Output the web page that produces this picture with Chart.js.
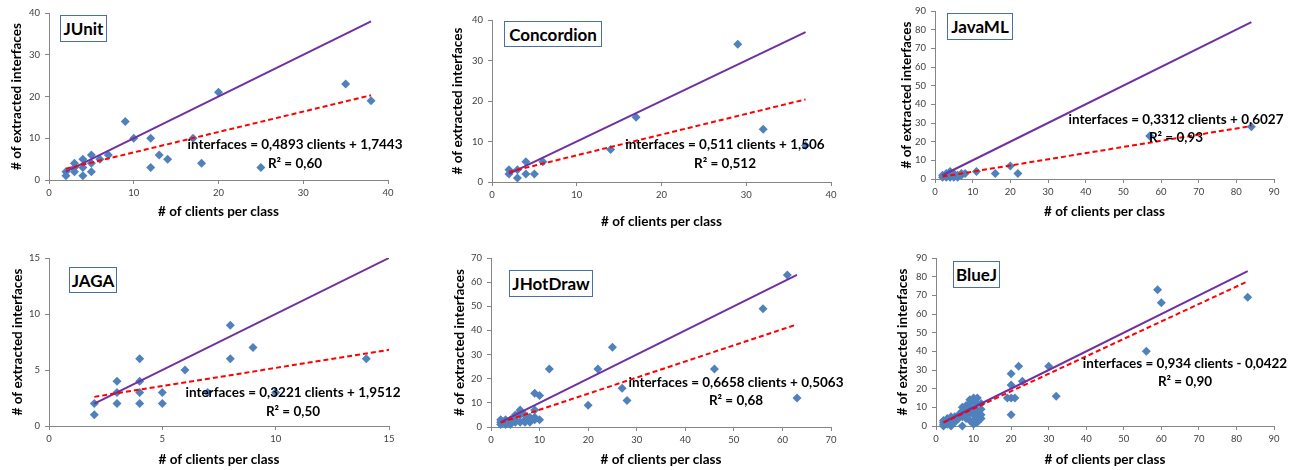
<!DOCTYPE html>
<html lang="en">
<head>
  <meta charset="UTF-8">
  <title>Clients per class vs extracted interfaces</title>
  <script src="https://cdn.jsdelivr.net/npm/chart.js"></script>
  <style>
    body { margin: 0; background: #fff; font-family: Lato, sans-serif; }
    #page { position: relative; width: 1299px; height: 470px; overflow: hidden; }
    .panel { position: absolute; }
    .tag { position: absolute; box-sizing: border-box; border: 1px solid #4a6fa5; background: #fff;
           font-weight: bold; font-size: 17px; display: flex; align-items: center; justify-content: center; }
    .eq { position: absolute; transform: translate(-50%, -50%); font-weight: bold; font-size: 13.5px;
          white-space: nowrap; color: #000; }
  </style>
</head>
<body>
  <div id="page"></div>

  <script>
    // --- data ---
    const junitPoints = [[2,2],[2,1],[3,4],[3,3],[3,2],[4,5],[4,3],[4,1],[5,6],[5,4],[5,2],[6,5],[7,6],
      [9,14],[10,10],[12,10],[12,3],[13,6],[14,5],[17,10],[18,4],[20,21],[25,3],[35,23],[38,19]];
    const junitFit = [[2, 2.7], [38, 20.3]];
    const junitIdeal = [[2, 2], [38, 38]];

    const concordionPoints = [[2,3],[2,2],[3,3],[3,1],[4,5],[4,2],[5,2],[6,5],[14,8],[17,16],[29,34],[32,13],[37,9]];
    const concordionFit = [[2, 2.5], [37, 20.4]];
    const concordionIdeal = [[2, 2], [37, 37]];

    const javamlPoints = [[2,1],[2,2],[3,1],[3,2],[3,3],[4,1],[4,2],[4,3],[4,4],[5,1],[5,2],[5,3],[6,1],[6,2],
      [7,2],[7,3],[8,3],[11,4],[16,3],[20,7],[22,3],[57,23],[84,28]];
    const javamlFit = [[2, 1.3], [84, 28.4]];
    const javamlIdeal = [[2, 2], [84, 84]];

    const jagaPoints = [[2,2],[2,1],[3,4],[3,3],[3,2],[4,6],[4,4],[4,3],[4,2],[5,3],[5,2],[6,5],[7,3],
      [8,9],[8,6],[9,7],[10,3],[14,6]];
    const jagaFit = [[2, 2.6], [15, 6.8]];
    const jagaIdeal = [[2, 2], [15, 15]];

    const jhotdrawPoints = [[2,1],[2,2],[2,3],[3,1],[3,2],[3,3],[4,1],[4,2],[4,3],[5,2],[5,3],[5,5],
      [6,2],[6,5],[6,6],[6,7],[7,2],[7,3],[7,5],[8,2],[8,3],[8,4],[9,3],[9,4],[9,7],[9,14],[10,3],[10,13],
      [12,24],[20,9],[22,24],[25,33],[27,16],[28,11],[46,24],[56,49],[61,63],[63,12]];
    const jhotdrawFit = [[2, 1.8], [63, 42.5]];
    const jhotdrawIdeal = [[2, 2], [63, 63]];

    const bluejPoints = [[2,0],[2,1],[2,2],[2,3],[3,1],[3,2],[3,3],[3,4],[4,0],[4,1],[4,3],[4,4],[4,5],
      [5,2],[5,4],[5,5],[6,4],[6,5],[6,6],[7,0],[7,5],[7,8],[7,10],[8,4],[8,6],[8,9],[8,11],
      [9,3],[9,7],[9,10],[9,12],[9,14],[10,1],[10,3],[10,6],[10,9],[10,13],[10,15],
      [11,2],[11,5],[11,8],[11,12],[11,15],[12,4],[12,6],[12,9],[12,12],
      [19,15],[20,6],[20,15],[20,22],[20,28],[21,15],[22,32],[23,24],[30,32],[32,16],[56,40],[59,73],[60,66],[83,69]];
    const bluejFit = [[2, 1.8], [83, 77.5]];
    const bluejIdeal = [[2, 2], [83, 83]];

    const projectNames = ['JUnit', 'Concordion', 'JavaML', 'JAGA', 'JHotDraw', 'BlueJ'];
    const equations = [
      'interfaces = 0,4893 clients + 1,7443',
      'interfaces = 0,511 clients + 1,506',
      'interfaces = 0,3312 clients + 0,6027',
      'interfaces = 0,3221 clients + 1,9512',
      'interfaces = 0,6658 clients + 0,5063',
      'interfaces = 0,934 clients - 0,0422'
    ];
    const rSquared = ['R² = 0,60', 'R² = 0,512', 'R² = 0,93', 'R² = 0,50', 'R² = 0,68', 'R² = 0,90'];
    const xMax = [40, 40, 90, 15, 70, 90];
    const xStep = [10, 10, 10, 5, 10, 10];
    const yMax = [40, 40, 90, 15, 70, 90];
    const yStep = [10, 10, 10, 5, 10, 10];
    const xTitle = '# of clients per class';
    const yTitle = '# of extracted interfaces';

    const allPoints = [junitPoints, concordionPoints, javamlPoints, jagaPoints, jhotdrawPoints, bluejPoints];
    const allFits = [junitFit, concordionFit, javamlFit, jagaFit, jhotdrawFit, bluejFit];
    const allIdeals = [junitIdeal, concordionIdeal, javamlIdeal, jagaIdeal, jhotdrawIdeal, bluejIdeal];

    // --- page layout (pixels) ---
    const layout = [
      { box: [0, 0, 430, 232],   plot: [49, 13, 388, 180],  xTitleY: 212, tag: [60, 15, 47, 27],   eq: [295, 144, 163] },
      { box: [441, 0, 430, 232], plot: [492, 20, 831, 182], xTitleY: 222, tag: [504, 21, 98, 26],  eq: [725, 144, 163] },
      { box: [890, 0, 409, 232], plot: [935, 11, 1274, 179], xTitleY: 212, tag: [947, 13, 66, 27], eq: [1176, 119, 137] },
      { box: [1, 235, 430, 235], plot: [49, 258, 389, 426], xTitleY: 460, tag: [69, 267, 48, 26],  eq: [293, 392, 411] },
      { box: [443, 235, 430, 235], plot: [491, 258, 831, 427], xTitleY: 460, tag: [509, 270, 84, 27], eq: [736, 382, 400] },
      { box: [886, 235, 413, 235], plot: [936, 258, 1274, 426], xTitleY: 460, tag: [953, 261, 47, 27], eq: [1185, 363, 381] }
    ];

    const axisColor = '#868686';
    const tickFont = { family: 'Lato', size: 9.5 };
    const titleFont = { family: 'Lato', size: 13.5, weight: 'bold' };
    const page = document.getElementById('page');
    const toXY = arr => arr.map(([x, y]) => ({ x, y }));

    function addText(cls, text, left, top, w, h) {
      const d = document.createElement('div');
      d.className = cls;
      d.textContent = text;
      d.style.left = left + 'px';
      d.style.top = top + 'px';
      if (w) { d.style.width = w + 'px'; d.style.height = h + 'px'; }
      page.appendChild(d);
    }

    function makeChart(i) {
      const L = layout[i];
      const [cl, ct, cw, ch] = L.box;
      const [pl, pt, pr, pb] = L.plot;
      const wrap = document.createElement('div');
      wrap.className = 'panel';
      Object.assign(wrap.style, { left: cl + 'px', top: ct + 'px', width: cw + 'px', height: ch + 'px' });
      const cv = document.createElement('canvas');
      wrap.appendChild(cv);
      page.appendChild(wrap);

      const yW = pl - cl;
      const xH = ct + ch - pb;
      const lh = titleFont.size * 1.2;

      new Chart(cv, {
        type: 'scatter',
        data: {
          datasets: [
            { type: 'line', data: toXY(allFits[i]), borderColor: '#ff0000', borderWidth: 2,
              borderDash: [5, 3], pointRadius: 0, fill: false },
            { type: 'line', data: toXY(allIdeals[i]), borderColor: '#7030a0', borderWidth: 2,
              pointRadius: 0, fill: false },
            { data: toXY(allPoints[i]), pointStyle: 'rectRot', pointRadius: 4.5,
              backgroundColor: '#4f81bd', borderColor: '#4f81bd', borderWidth: 0, clip: false }
          ]
        },
        options: {
          responsive: true,
          maintainAspectRatio: false,
          animation: false,
          layout: { padding: { left: 0, top: pt - ct, right: cl + cw - pr, bottom: 0 } },
          plugins: { legend: { display: false }, tooltip: { enabled: false } },
          scales: {
            x: {
              type: 'linear', min: 0, max: xMax[i],
              ticks: { stepSize: xStep[i], font: tickFont, color: '#404040', padding: 3, maxRotation: 0 },
              grid: { drawOnChartArea: false, tickLength: 4, color: axisColor },
              border: { color: axisColor },
              title: { display: true, text: xTitle, font: titleFont, color: '#000',
                       padding: { top: 0, bottom: (ct + ch) - L.xTitleY - lh / 2 } },
              afterFit(s) { s.height = xH; }
            },
            y: {
              type: 'linear', min: 0, max: yMax[i],
              ticks: { stepSize: yStep[i], font: tickFont, color: '#404040', padding: 5 },
              grid: { drawOnChartArea: false, tickLength: 4, color: axisColor },
              border: { color: axisColor },
              title: { display: true, text: yTitle, font: titleFont, color: '#000',
                       padding: { top: 17 - lh / 2, bottom: 0 } },
              afterFit(s) { s.width = yW; }
            }
          }
        }
      });

      const [tl, tt, tw, th] = L.tag;
      addText('tag', projectNames[i], tl, tt, tw, th);
      addText('eq', equations[i], L.eq[0], L.eq[1]);
      addText('eq', rSquared[i], L.eq[0], L.eq[2]);
    }

    projectNames.forEach((_, i) => makeChart(i));
  </script>
</body>
</html>
